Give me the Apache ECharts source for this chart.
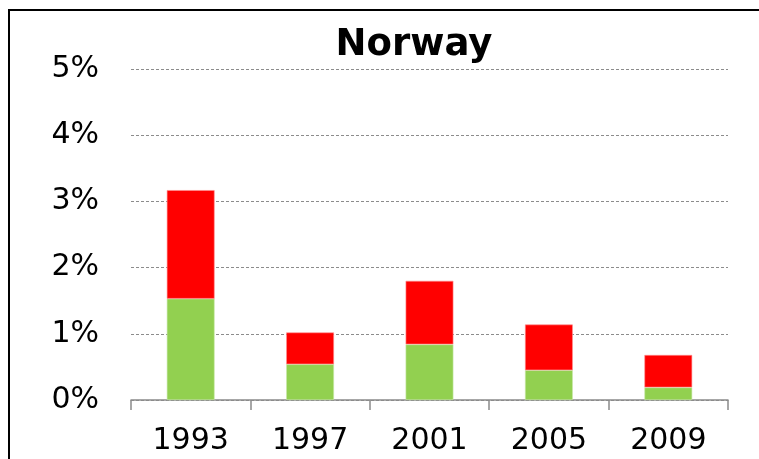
<!DOCTYPE html>
<html>
<head>
<meta charset="utf-8">
<script src="https://cdn.jsdelivr.net/npm/echarts@6/dist/echarts.min.js"></script>
<style>
  html, body { margin: 0; padding: 0; background: #fff; }
  #bar { width: 759px; height: 459px; }
</style>
</head>
<body>
<div id="bar"></div>
<script>
// data
const years = ["1993", "1997", "2001", "2005", "2009"];
const greenPart = [1.53, 0.54, 0.84, 0.45, 0.19];
const redPart = [1.64, 0.48, 0.96, 0.69, 0.49];
const yTicks = [0, 1, 2, 3, 4, 5];

const chart = echarts.init(document.getElementById("bar"));
const option = {
  animation: false,
  backgroundColor: "#fff",
  title: {
    text: "Norway",
    left: 409,
    top: 22,
    textAlign: "center",
    textStyle: {
      fontFamily: "DejaVu Sans",
      fontWeight: "bold",
      fontSize: 37,
      color: "#000"
    }
  },
  graphic: [
    {
      type: "rect",
      shape: { x: 9, y: 10, width: 800, height: 500 },
      style: { fill: null, stroke: "#000", lineWidth: 2 },
      silent: true
    }
  ],
  grid: {
    left: 131,
    right: 31,
    top: 69,
    bottom: 59
  },
  xAxis: {
    type: "category",
    data: years,
    axisLine: { lineStyle: { color: "#8a8a8a", width: 1.5 } },
    axisTick: { show: true, length: 10, lineStyle: { color: "#8a8a8a", width: 1.5 } },
    axisLabel: {
      color: "#000",
      fontFamily: "DejaVu Sans",
      fontSize: 30,
      margin: 26
    }
  },
  yAxis: {
    type: "value",
    min: yTicks[0],
    max: yTicks[yTicks.length - 1],
    interval: 1,
    axisLine: { show: false },
    axisTick: { show: false },
    axisLabel: {
      color: "#000",
      fontFamily: "DejaVu Sans",
      fontSize: 30,
      margin: 32,
      formatter: "{value}%"
    },
    splitLine: {
      lineStyle: { color: "#8c8c8c", type: [3, 2], width: 1 }
    }
  },
  series: [
    {
      name: "green",
      type: "bar",
      stack: "total",
      data: greenPart,
      barWidth: "40%",
      itemStyle: { color: "#92D050", borderColor: "#c8e8a8", borderWidth: 0.6 }
    },
    {
      name: "red",
      type: "bar",
      stack: "total",
      data: redPart,
      barWidth: "40%",
      itemStyle: { color: "#FF0000", borderColor: "#ff9090", borderWidth: 0.6 }
    }
  ]
};
chart.setOption(option);
</script>
</body>
</html>
